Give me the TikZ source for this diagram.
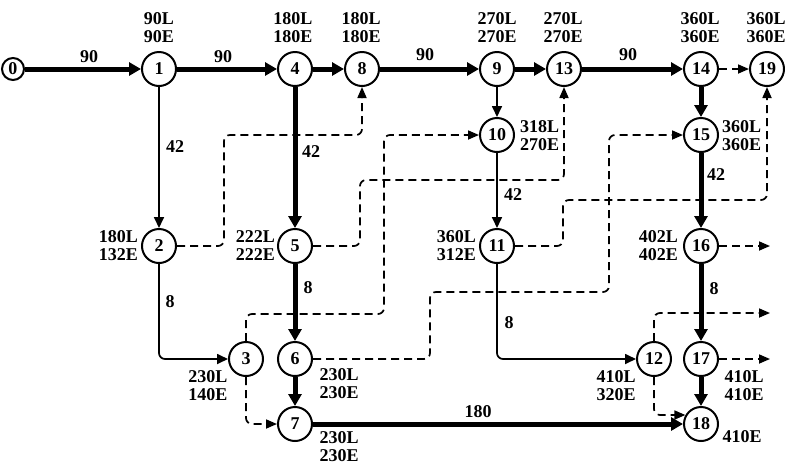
\documentclass[tikz,border=0pt]{standalone}
\usepackage{fontspec}
\setmainfont{Liberation Serif}
\usetikzlibrary{arrows.meta,calc}
\begin{document}
\begin{tikzpicture}[x=1pt,y=-1pt,
  every node/.style={font=\bfseries\fontsize{18}{18}\selectfont},
  ev/.style={circle,draw,line width=2pt,minimum size=34pt,inner sep=0pt,fill=white},
  lab/.style={align=center,inner sep=0pt},
  elab/.style={inner sep=0pt},
  thk/.style={line width=5pt,-{Triangle[length=12pt,width=13pt]}},
  thn/.style={line width=1.7pt,-{Triangle[length=11pt,width=10pt]}},
  dsh/.style={line width=1.7pt,dash pattern=on 8pt off 5pt,rounded corners=6pt,-{Triangle[length=11pt,width=9pt]}}
]
\useasboundingbox (0,0) rectangle (785,467);
% nodes
\node[ev,minimum size=22pt] (n0) at (13,69) {0};
\node[ev] (n1) at (159,69) {1};
\node[ev] (n4) at (295,69) {4};
\node[ev] (n8) at (362,69) {8};
\node[ev] (n9) at (497,69) {9};
\node[ev] (n13) at (564,69) {13};
\node[ev] (n14) at (701,69) {14};
\node[ev] (n19) at (767,69) {19};
\node[ev] (n10) at (497,135) {10};
\node[ev] (n15) at (701,135) {15};
\node[ev] (n2) at (159,246) {2};
\node[ev] (n5) at (295,246) {5};
\node[ev] (n11) at (497,246) {11};
\node[ev] (n16) at (701,246) {16};
\node[ev] (n3) at (246,359) {3};
\node[ev] (n6) at (295,359) {6};
\node[ev] (n12) at (654,359) {12};
\node[ev] (n17) at (701,359) {17};
\node[ev] (n7) at (295,424) {7};
\node[ev] (n18) at (701,424) {18};
\coordinate (e16) at (770,246);
\coordinate (e12) at (770,313);
\coordinate (e17) at (770,359);
% dashed connectors
\draw[dsh] (n2) -| (224,135) -| (n8);
\draw[dsh] (n5) -| (360,180) -| (n13);
\draw[dsh] (n3) |- (384,314) |- (n10);
\draw[dsh] (n6) -| (430,292) -| (609,135) -- (n15);
\draw[dsh] (n11) -| (563,200) -| (n19);
\draw[dsh] (n14) -- (n19);
\draw[dsh] (n16) -- (e16);
\draw[dsh] (n12) |- (e12);
\draw[dsh] (n17) -- (e17);
\draw[dsh] (n12) |- (n18.150);
\draw[dsh] (n3) |- (n7);
% thin connectors
\draw[thn] (n1) -- (n2);
\draw[thn,rounded corners=6pt] (n2) |- (n3);
\draw[thn] (n9) -- (n10);
\draw[thn] (n10) -- (n11);
\draw[thn,rounded corners=6pt] (n11) |- (n12);
% thick connectors
\draw[thk] (n0) -- (n1);
\draw[thk] (n1) -- (n4);
\draw[thk] (n4) -- (n8);
\draw[thk] (n8) -- (n9);
\draw[thk] (n9) -- (n13);
\draw[thk] (n13) -- (n14);
\draw[thk] (n4) -- (n5);
\draw[thk] (n5) -- (n6);
\draw[thk] (n6) -- (n7);
\draw[thk] (n7) -- (n18);
\draw[thk] (n14) -- (n15);
\draw[thk] (n15) -- (n16);
\draw[thk] (n16) -- (n17);
\draw[thk] (n17) -- (n18);
% edge labels
\node[elab] (w01) at (89,57) {90};
\node[elab] (w14) at (223,57) {90};
\node[elab] (w89) at (425,55) {90};
\node[elab] (w1314) at (628,55) {90};
\node[elab] (w12) at (175,147) {42};
\node[elab] (w45) at (311,152) {42};
\node[elab] (w1011) at (513,195) {42};
\node[elab] (w1516) at (716,175) {42};
\node[elab] (w23) at (170,302) {8};
\node[elab] (w56) at (308,288) {8};
\node[elab] (w1112) at (509,323) {8};
\node[elab] (w1617) at (714,289) {8};
\node[elab] (w718) at (478,412) {180};
% event labels
\node[lab] (l1) at (159,28) {90L\\90E};
\node[lab] (l4) at (293,28) {180L\\180E};
\node[lab] (l8) at (361,28) {180L\\180E};
\node[lab] (l9) at (497,28) {270L\\270E};
\node[lab] (l13) at (563,28) {270L\\270E};
\node[lab] (l14) at (700,28) {360L\\360E};
\node[lab] (l19) at (766,28) {360L\\360E};
\node[lab,anchor=west] (l10) at (520,136) {318L\\270E};
\node[lab,anchor=west] (l15) at (722,136) {360L\\360E};
\node[lab,anchor=east] (l2) at (138,246) {180L\\132E};
\node[lab,anchor=east] (l5) at (275,246) {222L\\222E};
\node[lab,anchor=east] (l11) at (476,246) {360L\\312E};
\node[lab,anchor=east] (l16) at (678,246) {402L\\402E};
\node[lab] (l3) at (208,386) {230L\\140E};
\node[lab] (l6) at (339,384) {230L\\230E};
\node[lab] (l7) at (339,447) {230L\\230E};
\node[lab] (l12) at (616,386) {410L\\320E};
\node[lab] (l17) at (744,386) {410L\\410E};
\node[lab] (l18) at (742,437) {410E};
\end{tikzpicture}
\end{document}
